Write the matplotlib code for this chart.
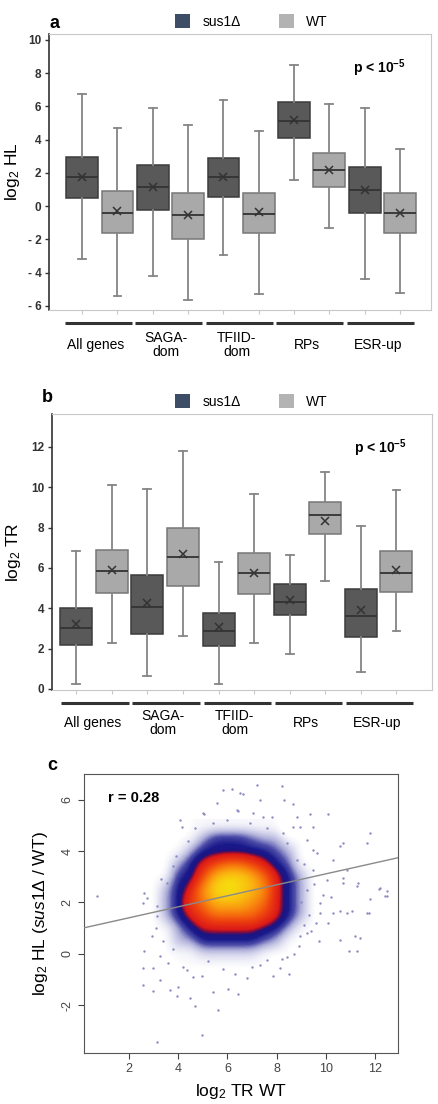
import numpy as np
import matplotlib
matplotlib.use("Agg")
import matplotlib.pyplot as plt
from matplotlib.patches import Patch
from matplotlib.colors import LinearSegmentedColormap

plt.rcParams['font.family'] = ['Liberation Sans', 'DejaVu Sans']
plt.rcParams['mathtext.fontset'] = 'custom'
plt.rcParams['mathtext.rm'] = 'Liberation Sans'
plt.rcParams['mathtext.it'] = 'Liberation Sans:italic'
plt.rcParams['mathtext.bf'] = 'Liberation Sans:bold'
plt.rcParams['axes.unicode_minus'] = False

groups = ["All genes", "SAGA-\ndom", "TFIID-\ndom", "RPs", "ESR-up"]
strains = ["sus1Δ", "WT"]

# panel a: log2 HL, boxes go sus1D, WT, sus1D, WT ... (one pair per group)
hl_whishi = [6.74, 4.71, 5.89, 4.87, 6.41, 4.53, 8.52, 6.17, 5.89, 3.43]
hl_q3 = [2.97, 0.91, 2.46, 0.81, 2.88, 0.81, 6.25, 3.19, 2.36, 0.81]
hl_med = [1.78, -0.44, 1.17, -0.53, 1.78, -0.48, 5.14, 2.2, 0.97, -0.44]
hl_mean = [1.78, -0.32, 1.13, -0.53, 1.75, -0.38, 5.17, 2.2, 0.95, -0.42]
hl_q1 = [0.48, -1.62, -0.22, -1.96, 0.57, -1.62, 4.12, 1.13, -0.4, -1.62]
hl_whislo = [-3.19, -5.43, -4.18, -5.64, -2.93, -5.29, 1.6, -1.33, -4.4, -5.23]

# panel b: log2 TR
tr_whishi = [6.82, 10.13, 9.9, 11.82, 6.31, 9.66, 6.62, 10.76, 8.1, 9.87]
tr_q3 = [4.03, 6.89, 5.64, 8.0, 3.77, 6.72, 5.2, 9.28, 4.95, 6.85]
tr_med = [3.03, 5.84, 4.08, 6.52, 2.89, 5.77, 4.31, 8.64, 3.64, 5.77]
tr_mean = [3.2, 5.9, 4.26, 6.67, 3.08, 5.77, 4.39, 8.33, 3.9, 5.9]
tr_q1 = [2.16, 4.74, 2.72, 5.11, 2.11, 4.69, 3.67, 7.69, 2.57, 4.79]
tr_whislo = [0.26, 2.3, 0.63, 2.62, 0.26, 2.28, 1.75, 5.36, 0.82, 2.85]

# panel c: density of points
# 1 = sparse dots, 2-3 = blue ring, 4-6 = red/orange, 7-8 = orange, 9-10 = yellow core
dens_x = [2.5, 3.0, 3.5, 4.0, 4.5, 5.0, 5.5, 6.0, 6.5, 7.0, 7.5, 8.0, 8.5, 9.0, 9.5, 10.0]
dens_y = [-1.0, -0.5, 0.0, 0.5, 1.0, 1.5, 2.0, 2.5, 3.0, 3.5, 4.0, 4.5, 5.0]
dens_levels = [
    [0, 0, 0, 0, 0, 0, 0, 0, 0, 0, 0, 0, 0, 0, 0, 0],
    [0, 0, 0, 1, 1, 1, 1, 1, 1, 1, 1, 0, 0, 0, 0, 0],
    [0, 0, 1, 1, 1, 1.5, 1.5, 1.5, 1.5, 1.5, 1, 1, 1, 0, 0, 0],
    [0, 0, 1, 2, 2, 3, 3, 3, 3, 3, 2.5, 2, 1, 1, 0, 0],
    [0, 1, 1, 2, 3, 3.8, 3.8, 3.8, 3.8, 3.8, 3.3, 3, 2, 1, 1, 0],
    [0, 1, 2, 3, 4, 5, 6, 6, 6, 6, 5, 4, 3, 2, 1, 0],
    [0, 1, 2, 3, 5, 6, 8, 8, 8, 7, 6, 4, 3, 2, 1, 0],
    [0, 1, 2, 3, 4, 7, 9, 10, 9, 8, 7, 4, 3, 2, 1, 0],
    [0, 1, 1, 3, 3, 5, 8, 9, 9, 8, 6, 4, 3, 2, 1, 0],
    [0, 0, 1, 2, 3, 4, 5, 6, 6, 5, 4, 3, 2.5, 1, 1, 0],
    [0, 0, 1, 1, 2, 3, 3, 3, 3, 3, 3, 2.5, 2, 1, 0, 0],
    [0, 0, 0, 1, 1, 2, 3, 3, 3, 2.5, 2, 2, 1, 1, 0, 0],
    [0, 0, 0, 0, 1, 1, 1, 1, 1, 1, 1, 1, 0, 0, 0, 0],
]
# scattered points outside the dense cloud
sparse_x = [0.69, 2.62, 2.58, 2.61, 2.58, 2.56, 2.99, 3.26, 2.99, 3.67, 4.0, 3.94, 4.48, 4.68,
            4.95, 5.43, 5.6, 6.04, 6.44, 4.95, 3.13, 6.78, 7.33, 7.87, 8.14, 8.52, 8.41, 8.95,
            9.7, 10.1, 10.3, 10.58, 10.85, 10.58, 10.92, 11.28, 11.39, 11.19, 11.77, 11.8, 12.17,
            12.5, 12.5, 11.32, 10.71, 11.05, 9.76, 9.22, 7.6, 4.35, 3.6, 3.26, 2.92, 3.13, 3.53,
            7.19, 8.2, 6.2, 6.62, 8.31, 8.68, 5.05, 6.44, 7.46, 9.36, 10.08, 4.17, 11.8, 11.66,
            10.71, 10.58, 8.95, 8.27, 9.63, 3.8, 8.82, 9.49, 10.3, 10.85, 10.04, 10.71, 11.26,
            12.2, 12.4, 11.66, 2.72, 3.13, 5.02, 6.38, 7.05, 6.51, 7.33, 7.8, 8.68, 9.22, 9.49,
            8.82, 9.49, 9.22, 9.76, 4.07, 5.56, 5.83, 9.0, 9.3, 9.6, 9.1, 8.9, 9.4, 9.9, 9.5,
            10.2, 8.7, 8.2, 7.0, 6.3, 5.8, 5.2, 4.6, 4.2, 3.8, 3.4, 3.1, 3.3, 3.9, 4.4, 4.7, 5.4,
            6.0, 6.9, 7.6, 8.4, 9.1]
sparse_y = [2.26, 2.36, 1.97, 0.09, -0.56, -1.21, -0.56, -1.01, -1.47, -1.4, -1.3, -1.66, -1.72,
            -2.05, -0.88, -1.5, -2.2, -1.37, -1.56, -3.15, -3.44, -0.95, -0.43, -0.88, -0.56,
            -0.78, -0.13, 0.67, 0.48, 1.19, 1.58, 1.65, 1.58, 0.54, 0.09, 0.09, 0.61, 0.67, 1.58,
            2.13, 2.53, 2.46, 2.23, 2.75, 2.95, 1.65, 1.58, 0.8, -0.23, -0.62, -0.36, -0.1, 0.67,
            1.45, 2.75, 6.58, 6.54, 6.41, 6.23, 5.99, 5.84, 5.45, 5.54, 5.34, 5.45, 5.45, 4.95,
            4.7, 4.33, 4.32, 4.18, 4.95, 4.7, 3.92, 3.4, 5.34, 4.95, 3.66, 3.27, 2.88, 2.75, 2.62,
            2.56, 2.23, 1.58, 2.17, 1.84, 5.47, 5.6, 5.47, 6.25, 5.99, 5.34, 4.95, 4.44, 4.05,
            3.66, 3.27, 2.49, 1.97, 5.21, 5.86, 6.38, 2.0, 1.5, 1.2, 1.1, 0.3, 0.9, 2.3, 2.7, 2.2,
            0.0, -0.2, -0.5, -0.8, -0.6, -0.3, -0.9, -0.5, 0.2, 0.5, 1.0, 2.9, 3.8, 4.4, 4.9, 5.1,
            5.2, 5.1, 4.9, 4.3, 3.5]
reg_intercept = 0.97
reg_slope = 0.214
r_value = 0.28

dark = '#595959'
light = '#a9a9a9'


def make_stats(lo, q1, med, mean, q3, hi):
    return [dict(whislo=a, q1=b, med=c, mean=d, q3=e, whishi=f)
            for a, b, c, d, e, f in zip(lo, q1, med, mean, q3, hi)]


def box_panel(ax, stats, ylabel, yticks, yticklabels, ylim, xlim, line_off, lab_y, leg_x, ylab_x):
    pos = np.arange(len(stats))
    bp = ax.bxp(stats, positions=pos, widths=0.9, patch_artist=True, showmeans=True,
                showfliers=False, capwidths=0.22,
                meanprops=dict(marker='x', markeredgecolor='#333333', markersize=6, markeredgewidth=1.1),
                medianprops=dict(color='#333333', lw=1.3),
                whiskerprops=dict(color='#858585', lw=1.3),
                capprops=dict(color='#858585', lw=1.3))
    for i, b in enumerate(bp['boxes']):
        if i % 2 == 0:
            b.set_facecolor(dark)
            b.set_edgecolor('#3c3c3c')
        else:
            b.set_facecolor(light)
            b.set_edgecolor('#777777')
        b.set_linewidth(1.1)
    ax.set_xlim(xlim)
    ax.set_ylim(ylim)
    ax.set_yticks(yticks)
    ax.set_yticklabels(yticklabels, fontweight='bold', fontsize=8.5, color='#333333')
    ax.set_xticks(pos)
    ax.set_xticklabels([])
    ax.tick_params(axis='x', length=3, color='#c8c8c8')
    ax.tick_params(axis='y', length=3, color='#333333', width=1, pad=2.5)
    for s in ['top', 'right', 'bottom']:
        ax.spines[s].set_color('#c8c8c8')
    ax.spines['left'].set_color('#333333')
    ax.spines['left'].set_linewidth(1.2)
    ax.set_ylabel(ylabel, fontsize=12.5)
    ax.yaxis.set_label_coords(ylab_x, 0.5)
    tr = ax.get_xaxis_transform()
    for g, name in enumerate(groups):
        x0 = 2 * g - 0.5 + line_off
        x1 = 2 * g + 1.4 + line_off
        ax.plot([x0, x1], [-0.047, -0.047], transform=tr, color='#333333', lw=2.2,
                clip_on=False, solid_capstyle='butt')
        ax.text((x0 + x1) / 2 - 0.08, lab_y, name, transform=tr, ha='center', va='center',
                fontsize=10, linespacing=1.0)
    ax.text(0.864, 0.875, r'p < 10$^{\mathbf{-5}}$', transform=ax.transAxes, ha='center',
            va='center', fontsize=10, fontweight='bold')
    handles = [Patch(facecolor='#3e4d66', edgecolor='none'), Patch(facecolor='#b3b3b3', edgecolor='none')]
    ax.legend(handles, strains, loc='center', bbox_to_anchor=(leg_x, 1.045), ncol=2,
              frameon=False, fontsize=10, handlelength=1.1, handleheight=1.1,
              columnspacing=2.7, handletextpad=0.9, borderaxespad=0)


fig = plt.figure(figsize=(4.39, 11.04), dpi=100)

# a
ax1 = fig.add_axes([49 / 439, 1 - 310 / 1104, 382 / 439, 276 / 1104])
box_panel(ax1, make_stats(hl_whislo, hl_q1, hl_med, hl_mean, hl_q3, hl_whishi),
          'log$_2$ HL', list(range(-6, 11, 2)),
          ['- 6', '- 4', '- 2', '0', '2', '4', '6', '8', '10'],
          (-6.25, 10.36), (-0.94, 9.88), 0.0, -0.127, 0.53, -0.07)
fig.text(50 / 439, 1 - 23 / 1104, 'a', fontsize=13, fontweight='bold', va='center')

# b
ax2 = fig.add_axes([52 / 439, 1 - 690 / 1104, 380 / 439, 276 / 1104])
box_panel(ax2, make_stats(tr_whislo, tr_q1, tr_med, tr_mean, tr_q3, tr_whishi),
          'log$_2$ TR', list(range(0, 13, 2)),
          ['0', '2', '4', '6', '8', '10', '12'],
          (-0.05, 13.63), (-0.68, 10.0), 0.08, -0.118, 0.525, -0.076)
fig.text(42 / 439, 1 - 398 / 1104, 'b', fontsize=13, fontweight='bold', va='center')

# c
ax3 = fig.add_axes([84 / 439, 1 - 1053 / 1104, 314 / 439, 279 / 1104])
cmap = LinearSegmentedColormap.from_list('dens', [
    (0.0, (0.75, 0.75, 0.9, 0.0)), (0.03, (0.65, 0.65, 0.86, 0.1)),
    (0.13, (0.36, 0.36, 0.70, 0.5)), (0.185, (0.18, 0.18, 0.60, 0.85)),
    (0.239, (0.10, 0.10, 0.55, 1.0)),
    (0.283, (0.12, 0.08, 0.50, 1.0)), (0.304, (0.50, 0.05, 0.25, 1.0)),
    (0.337, (0.86, 0.10, 0.09, 1.0)), (0.457, (0.93, 0.25, 0.06, 1.0)),
    (0.565, (0.96, 0.42, 0.05, 1.0)), (0.674, (0.98, 0.58, 0.06, 1.0)),
    (0.783, (0.98, 0.72, 0.06, 1.0)), (0.891, (0.97, 0.83, 0.06, 1.0)),
    (1.0, (0.95, 0.91, 0.04, 1.0))])
cmap.set_under((1, 1, 1, 0))
dx = (dens_x[1] - dens_x[0]) / 2
dy = (dens_y[1] - dens_y[0]) / 2
ax3.imshow(np.array(dens_levels, dtype=float), origin='lower', aspect='auto', cmap=cmap,
           vmin=0.8, vmax=10, interpolation='bicubic', interpolation_stage='data',
           extent=[dens_x[0] - dx, dens_x[-1] + dx, dens_y[0] - dy, dens_y[-1] + dy], zorder=1)
ax3.scatter(sparse_x, sparse_y, s=3, color='#8c8cc4', linewidths=0, zorder=2)
ax3.axline((0, reg_intercept), slope=reg_slope, color='#8a8a8a', lw=1.0, zorder=3)
ax3.set_xlim(0.17, 12.93)
ax3.set_ylim(-3.87, 7.0)
ax3.set_xticks([2, 4, 6, 8, 10, 12])
ax3.set_yticks([-2, 0, 2, 4, 6])
ax3.tick_params(labelsize=9, colors='#444444', length=4)
for lab in ax3.get_yticklabels():
    lab.set_rotation(90)
    lab.set_va('center')
for s in ax3.spines.values():
    s.set_color('#555555')
ax3.set_xlabel('log$_2$ TR WT', fontsize=12.5)
ax3.set_ylabel(r'log$_2$ HL ($\mathit{sus1}$Δ / WT)', fontsize=12.5)
ax3.yaxis.set_label_coords(-0.108, 0.5)
ax3.xaxis.set_label_coords(0.5, -0.105)
ax3.text(0.076, 0.914, 'r = %.2f' % r_value, transform=ax3.transAxes, fontsize=10.5,
         fontweight='bold', va='center')
fig.text(47 / 439, 1 - 766 / 1104, 'c', fontsize=13, fontweight='bold', va='center')

fig.savefig('out.png', dpi=100)
